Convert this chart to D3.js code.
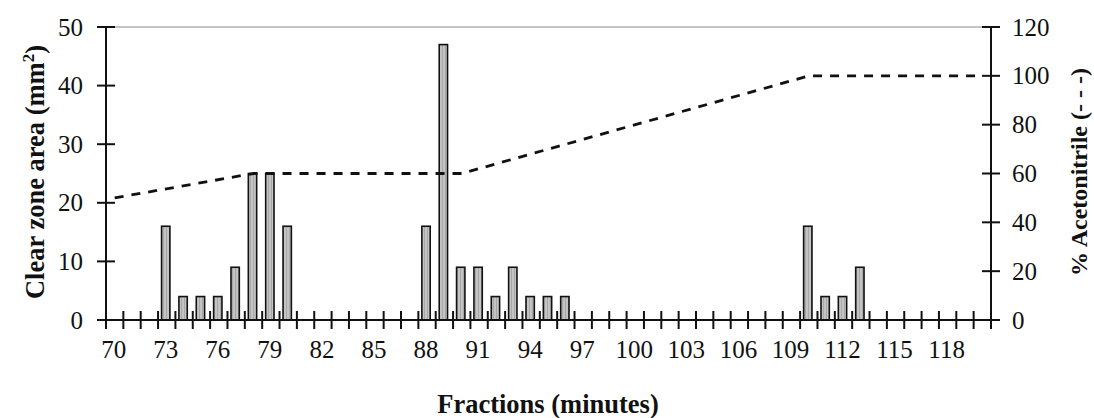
<!DOCTYPE html>
<html>
<head>
<meta charset="utf-8">
<script src="https://cdn.jsdelivr.net/npm/d3@7"></script>
<style>
  html, body { margin: 0; padding: 0; background: #fff; }
  svg { display: block; }
  text { font-family: "Liberation Serif", "Times New Roman", serif; fill: #111; }
</style>
</head>
<body>
<svg id="chart" width="1094" height="418"></svg>
<script>
// ---- data ----
const categories = d3.range(70, 121);            // fractions 70..120
const barFractions = [73, 74, 75, 76, 77, 78, 79, 80, 88, 89, 90, 91, 92, 93, 94, 95, 96, 110, 111, 112, 113];
const barValues    = [16,  4,  4,  4,  9, 25, 25, 16, 16, 47,  9,  9,  4,  9,  4,  4,  4, 16,  4,  4,  9];
const gradientFractions = [70, 78, 90, 110, 120];
const gradientPercent   = [50, 60, 60, 100, 100];
const xTickLabels = [70, 73, 76, 79, 82, 85, 88, 91, 94, 97, 100, 103, 106, 109, 112, 115, 118];
const leftTicks  = [0, 10, 20, 30, 40, 50];
const rightTicks = [0, 20, 40, 60, 80, 100, 120];

// ---- layout ----
const svg = d3.select("#chart");
const L = 106, R = 991, T = 27, B = 320;

const x = d3.scaleBand().domain(categories).range([L, R]).padding(0);
const yL = d3.scaleLinear().domain([0, 50]).range([B, T]);
const yR = d3.scaleLinear().domain([0, 120]).range([B, T]);

const bars = barFractions.map((f, i) => ({ f, v: barValues[i] }));
const grad = gradientFractions.map((f, i) => ({ f, p: gradientPercent[i] }));

// top border line
svg.append("line")
  .attr("x1", L).attr("x2", R).attr("y1", yL(50)).attr("y2", yL(50))
  .attr("stroke", "#b0b0b0").attr("stroke-width", 1.5);

// pattern for bars (stippled grey)
const defs = svg.append("defs");
const pat = defs.append("pattern").attr("id", "stip")
  .attr("patternUnits", "userSpaceOnUse").attr("width", 3).attr("height", 3);
pat.append("rect").attr("width", 3).attr("height", 3).attr("fill", "#c4c4c4");
pat.append("rect").attr("x", 1).attr("width", 1).attr("height", 3).attr("fill", "#a8a8a8");

// bars
const bw = x.step() * 0.48;
svg.append("g").selectAll("rect").data(bars).join("rect")
  .attr("x", d => x(d.f) + x.bandwidth() / 2 - bw / 2 - 1)
  .attr("y", d => yL(d.v))
  .attr("width", bw)
  .attr("height", d => yL(0) - yL(d.v))
  .attr("fill", "url(#stip)")
  .attr("stroke", "#111").attr("stroke-width", 1.6);

// gradient dashed line
const line = d3.line()
  .x(d => x(d.f) + x.bandwidth() / 2)
  .y(d => yR(d.p));
svg.append("path").datum(grad)
  .attr("d", line)
  .attr("fill", "none").attr("stroke", "#111")
  .attr("stroke-width", 2.8).attr("stroke-dasharray", "9,8");

// x axis: crossing ticks at band boundaries
const gx = svg.append("g");
gx.append("line").attr("x1", L - 9).attr("x2", R + 8).attr("y1", B).attr("y2", B)
  .attr("stroke", "#111").attr("stroke-width", 2);
const bounds = categories.map(c => x(c)).concat([x(categories[categories.length - 1]) + x.step()]);
gx.selectAll("line.tk").data(bounds.slice(1, -1)).join("line").attr("class", "tk")
  .attr("x1", d => d).attr("x2", d => d).attr("y1", B - 9).attr("y2", B + 9)
  .attr("stroke", "#111").attr("stroke-width", 2);
gx.selectAll("text").data(xTickLabels).join("text")
  .attr("x", d => x(d) + x.bandwidth() / 2 - 1)
  .attr("y", 358)
  .attr("text-anchor", "middle")
  .attr("font-size", 25)
  .text(d => d);

// left axis
const gl = svg.append("g");
gl.append("line").attr("x1", L).attr("x2", L).attr("y1", T).attr("y2", B + 9)
  .attr("stroke", "#111").attr("stroke-width", 2);
gl.selectAll("line.tk").data(leftTicks).join("line").attr("class", "tk")
  .attr("x1", L - 9).attr("x2", L + 9).attr("y1", d => yL(d)).attr("y2", d => yL(d))
  .attr("stroke", "#111").attr("stroke-width", 2);
gl.selectAll("text").data(leftTicks).join("text")
  .attr("x", L - 23).attr("y", d => yL(d)).attr("dy", "0.34em")
  .attr("text-anchor", "end").attr("font-size", 25)
  .text(d => d);

// right axis
const gr = svg.append("g");
gr.append("line").attr("x1", R).attr("x2", R).attr("y1", T).attr("y2", B + 9)
  .attr("stroke", "#111").attr("stroke-width", 2);
gr.selectAll("line.tk").data(rightTicks).join("line").attr("class", "tk")
  .attr("x1", R - 9).attr("x2", R + 9).attr("y1", d => yR(d)).attr("y2", d => yR(d))
  .attr("stroke", "#111").attr("stroke-width", 2);
gr.selectAll("text").data(rightTicks).join("text")
  .attr("x", R + 21).attr("y", d => yR(d)).attr("dy", "0.34em")
  .attr("text-anchor", "start").attr("font-size", 25)
  .text(d => d);

// titles
const lt = svg.append("text")
  .attr("transform", "translate(44,172) rotate(-90)")
  .attr("text-anchor", "middle").attr("font-size", 26.5).attr("font-weight", "bold");
lt.append("tspan").text("Clear zone area (mm");
lt.append("tspan").attr("font-size", 17).attr("dy", -10).text("2");
lt.append("tspan").attr("dy", 10).text(")");

svg.append("text")
  .attr("transform", "translate(1087,172) rotate(-90)")
  .attr("text-anchor", "middle").attr("font-size", 24).attr("font-weight", "bold")
  .text("% Acetonitrile (- - -)");

svg.append("text")
  .attr("x", 548).attr("y", 413)
  .attr("text-anchor", "middle").attr("font-size", 26.5).attr("font-weight", "bold")
  .text("Fractions (minutes)");
</script>
</body>
</html>
